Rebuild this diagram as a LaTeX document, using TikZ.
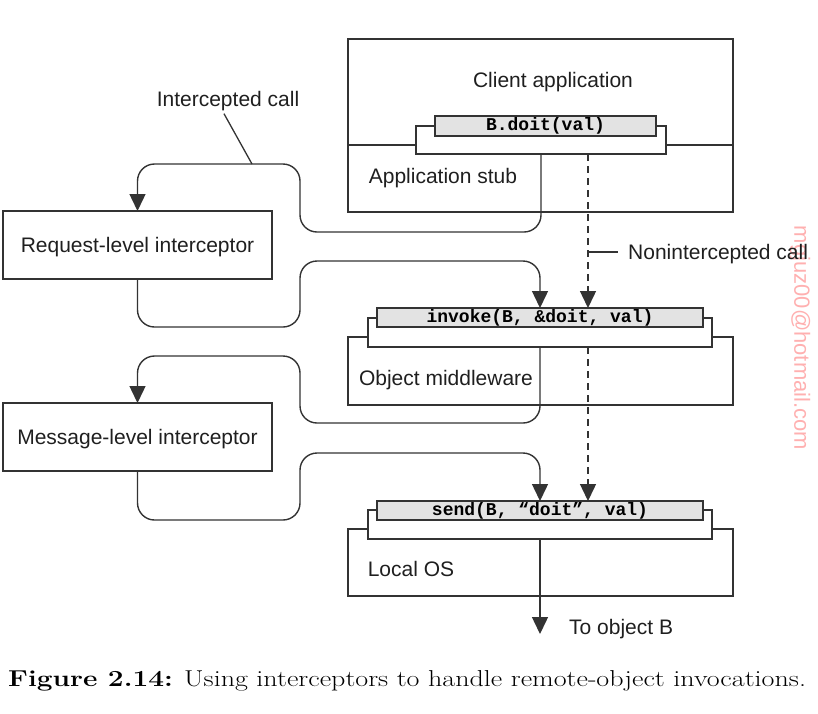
\documentclass[tikz,border=0pt]{standalone}
\usepackage{fontspec}
\setsansfont{Liberation Sans}
\setmonofont{Liberation Mono}
\usepackage{tikz}
\usetikzlibrary{arrows.meta}
\definecolor{ink}{HTML}{333333}
\definecolor{callgray}{HTML}{E3E3E3}
\definecolor{wmark}{HTML}{FFB0B0}
\tikzset{>={Triangle[length=17pt,width=16pt]}}
\tikzset{
  layer/.style={draw=ink, line width=1.4pt, inner sep=0pt, outer sep=0pt},
  bracket/.style={layer, fill=white},
  callbox/.style={layer, fill=callgray, text height=13pt, text depth=4pt,
    font=\fontsize{18}{20}\ttfamily\bfseries},
  lbl/.style={font=\fontsize{21}{25}\sffamily, text=black!88, inner sep=1pt,
    text height=15pt, text depth=0pt},
  interceptor/.style={layer, lbl, minimum width=269pt, minimum height=68pt},
  flow/.style={draw=ink, line width=1.4pt, rounded corners=17pt},
}

\begin{document}
\begin{tikzpicture}[x=1pt,y=-1pt]
  \useasboundingbox (0,0) rectangle (818,713);

  % client application + stub
  \node[layer, minimum width=385pt, minimum height=173pt] (client) at (540.5,125.5) {};
  \draw[ink, line width=1.4pt] (client.west |- 0,145) -- (client.east |- 0,145);
  \node[bracket, minimum width=250pt, minimum height=28pt] (stub) at (541,140) {};
  \node[callbox, minimum width=221pt, minimum height=20pt] (doit) at (545.5,126) {B.doit(val)};
  \node[lbl] (clientlbl) at (553,80) {Client application};
  \node[lbl] (stublbl) at (443,176) {Application stub};

  % object middleware
  \node[layer, minimum width=385pt, minimum height=68pt] (mw) at (540.5,371) {};
  \node[bracket, minimum width=344pt, minimum height=29pt] (mwb) at (540,332.5) {};
  \node[callbox, minimum width=326pt, minimum height=19pt] (invoke) at (540,317.5) {invoke(B, \&doit, val)};
  \node[lbl] (mwlbl) at (446,378) {Object middleware};

  % local OS
  \node[layer, minimum width=385pt, minimum height=67pt] (os) at (540.5,562.5) {};
  \node[bracket, minimum width=344pt, minimum height=29pt] (osb) at (540,524.5) {};
  \node[callbox, minimum width=326pt, minimum height=19pt] (send) at (540,510.5) {send(B, “doit”, val)};
  \node[lbl] (oslbl) at (411,569) {Local OS};

  % interceptors
  \node[interceptor] (req) at (137.5,245) {Request-level interceptor};
  \node[interceptor] (msg) at (137.5,437) {Message-level interceptor};

  % intercepted calls
  \draw[flow,->] (stub.south) |- (300,232) |- (req.north |- 0,164) -- (req.north);
  \draw[flow,->] (req.south) |- (300,327) |- (invoke.north |- 0,261) -- (invoke.north);
  \draw[flow,->] (mwb.south) |- (300,423) |- (msg.north |- 0,356) -- (msg.north);
  \draw[flow,->] (msg.south) |- (300,520) |- (send.north |- 0,453) -- (send.north);

  % to object B
  \coordinate (objB) at (540,634);
  \draw[ink, line width=1.4pt, ->] (osb.south) -- (objB);
  \node[lbl, anchor=west] (objlbl) at (568,627) {To object B};

  % nonintercepted call
  \coordinate (nonx) at (588,0);
  \draw[ink, line width=1.4pt, dash pattern=on 7pt off 5pt, ->] (stub.south -| nonx) -- (invoke.north -| nonx);
  \draw[ink, line width=1.4pt, dash pattern=on 7pt off 5pt, ->] (mwb.south -| nonx) -- (send.north -| nonx);

  % watermark
  \node[font=\fontsize{22}{24}\sffamily, text=wmark, rotate=-90] (wm) at (800,338) {mgjuz00@hotmail.com};

  \node[lbl, anchor=west] (nonlbl) at (627,252) {Nonintercepted call};
  \draw[ink, line width=1.4pt] (nonx |- nonlbl) -- ++(30,0);

  \node[lbl] (icl) at (228,99) {Intercepted call};
  \coordinate (icx) at (252,164);
  \draw[ink, line width=1.3pt] ([xshift=-4pt,yshift=-6pt]icl.south) -- (icx);

  % caption
  \node[anchor=base west, inner sep=0pt, font=\fontsize{23}{26}\selectfont] (cap) at (8,686)
    {\scalebox{1.22}[1]{\textbf{Figure 2.14:} Using interceptors to handle remote-object invocations.}};
\end{tikzpicture}
\end{document}
